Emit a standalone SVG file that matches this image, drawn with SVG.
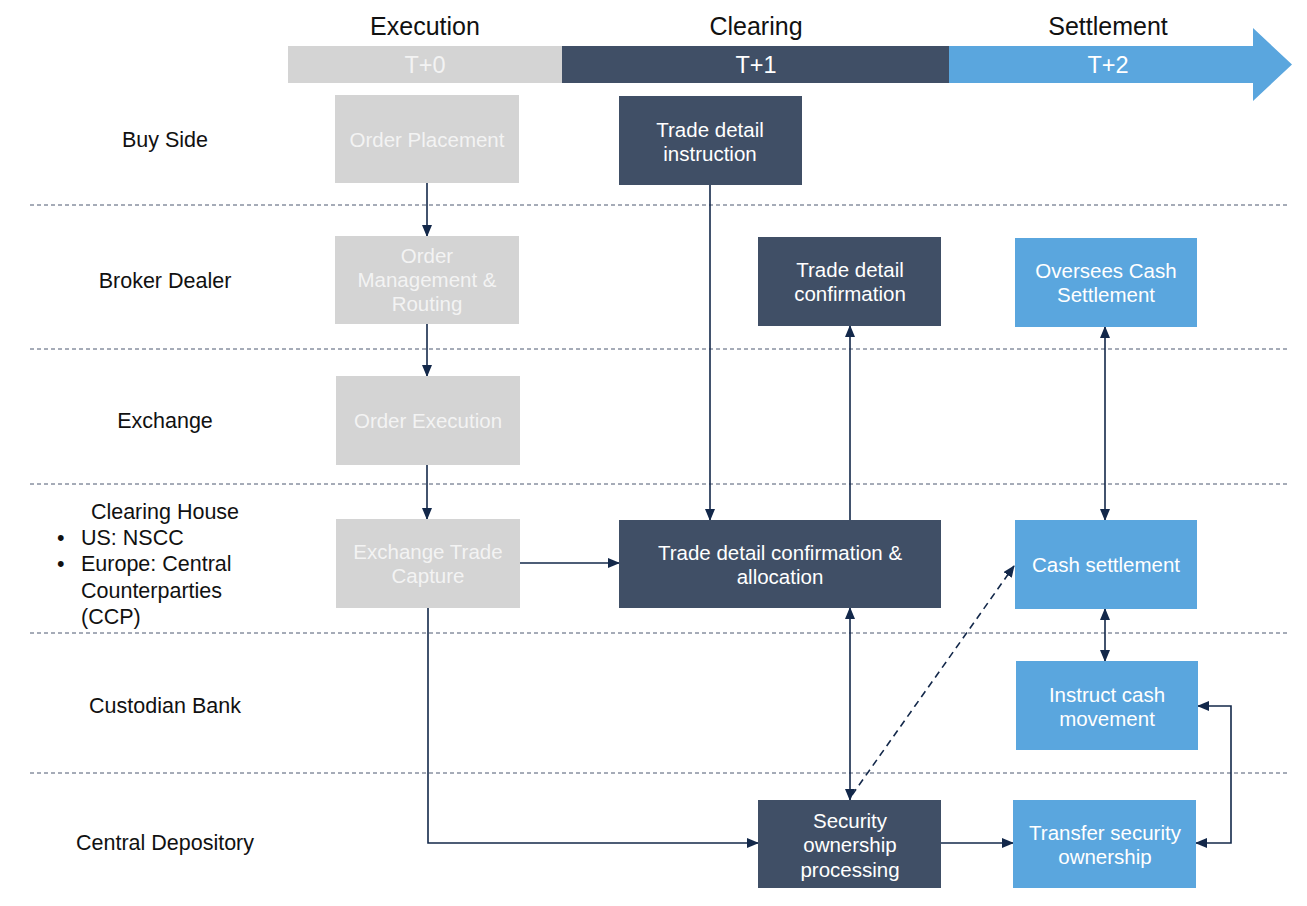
<svg xmlns="http://www.w3.org/2000/svg" width="1307" height="906" viewBox="0 0 1307 906">
  <defs>
    <style>
      .lbl { font-family: "Liberation Sans", Arial, sans-serif; font-size: 21.5px; fill: #111; }
      .hdr { font-family: "Liberation Sans", Arial, sans-serif; font-size: 25px; fill: #111; text-anchor: middle; }
      .tday { font-family: "Liberation Sans", Arial, sans-serif; font-size: 23.5px; text-anchor: middle; }
      .ntxt { font-family: "Liberation Sans", Arial, sans-serif; font-size: 20.5px; text-anchor: middle; fill: #ffffff; }
      .gray { fill: #d4d4d4; }
      .gray-t { fill: #f3f3f3; }
      .dark { fill: #404f66; }
      .blue { fill: #5aa6de; }
      .lane { stroke: #2e3c58; stroke-width: 1; stroke-dasharray: 4 3; fill: none; opacity: 0.85; }
      .conn { stroke: #13284a; stroke-width: 1.6; fill: none; }
      .dash { stroke-dasharray: 7 5; }
    </style>
    <marker id="arr" viewBox="0 0 12 10" refX="11" refY="5" markerWidth="12" markerHeight="10" markerUnits="userSpaceOnUse" orient="auto-start-reverse">
      <path d="M0,0 L12,5 L0,10 z" fill="#13284a"/>
    </marker>
  </defs>

  <rect width="1307" height="906" fill="#ffffff"/>

  <!-- phase timeline -->
  <g id="timeline">
    <rect x="288" y="46" width="274" height="37" class="gray"/>
    <rect x="562" y="46" width="387" height="37" class="dark"/>
    <polygon points="949,46 1253,46 1253,28 1292,64.5 1253,101 1253,83 949,83" class="blue"/>
    <text x="425" y="35" class="hdr">Execution</text>
    <text x="756" y="35" class="hdr">Clearing</text>
    <text x="1108" y="35" class="hdr">Settlement</text>
    <text x="425" y="73" class="tday" fill="#f3f3f3">T+0</text>
    <text x="756" y="73" class="tday" fill="#ffffff">T+1</text>
    <text x="1108" y="73" class="tday" fill="#ffffff">T+2</text>
  </g>

  <!-- swimlane separators -->
  <g id="lanes">
    <line x1="30" y1="205" x2="1290" y2="205" class="lane"/>
    <line x1="30" y1="349" x2="1290" y2="349" class="lane"/>
    <line x1="30" y1="484" x2="1290" y2="484" class="lane"/>
    <line x1="30" y1="633" x2="1290" y2="633" class="lane"/>
    <line x1="30" y1="773" x2="1290" y2="773" class="lane"/>
  </g>

  <!-- lane titles -->
  <g id="lane-labels">
    <text x="165" y="147" class="lbl" text-anchor="middle">Buy Side</text>
    <text x="165" y="288" class="lbl" text-anchor="middle">Broker Dealer</text>
    <text x="165" y="428" class="lbl" text-anchor="middle">Exchange</text>
    <text x="165" y="519" class="lbl" text-anchor="middle">Clearing House</text>
    <text x="57" y="545" class="lbl">•</text>
    <text x="81" y="545" class="lbl">US: NSCC</text>
    <text x="57" y="571" class="lbl">•</text>
    <text x="81" y="571" class="lbl">Europe: Central</text>
    <text x="81" y="598" class="lbl">Counterparties</text>
    <text x="81" y="624" class="lbl">(CCP)</text>
    <text x="165" y="713" class="lbl" text-anchor="middle">Custodian Bank</text>
    <text x="165" y="850" class="lbl" text-anchor="middle">Central Depository</text>
  </g>

  <!-- connectors -->
  <g id="connectors">
    <line x1="427" y1="183" x2="427" y2="236" class="conn" marker-end="url(#arr)"/>
    <line x1="427" y1="324" x2="427" y2="376" class="conn" marker-end="url(#arr)"/>
    <line x1="427" y1="465" x2="427" y2="519" class="conn" marker-end="url(#arr)"/>
    <line x1="520" y1="563" x2="619" y2="563" class="conn" marker-end="url(#arr)"/>
    <line x1="710" y1="185" x2="710" y2="520" class="conn" marker-end="url(#arr)"/>
    <line x1="850" y1="520" x2="850" y2="326" class="conn" marker-end="url(#arr)"/>
    <line x1="1105" y1="327" x2="1105" y2="520" class="conn" marker-start="url(#arr)" marker-end="url(#arr)"/>
    <line x1="1105" y1="609" x2="1105" y2="661" class="conn" marker-start="url(#arr)" marker-end="url(#arr)"/>
    <line x1="850" y1="608" x2="850" y2="800" class="conn" marker-start="url(#arr)" marker-end="url(#arr)"/>
    <line x1="852" y1="795" x2="1014" y2="566" class="conn dash" marker-end="url(#arr)"/>
    <polyline points="428,608 428,843 758,843" class="conn" marker-end="url(#arr)"/>
    <line x1="941" y1="843" x2="1013" y2="843" class="conn" marker-end="url(#arr)"/>
    <polyline points="1198,706 1231,706 1231,843 1196,843" class="conn" marker-start="url(#arr)" marker-end="url(#arr)"/>
  </g>

  <!-- execution nodes -->
  <g id="order-placement">
    <rect x="335" y="95" width="184" height="88" class="gray"/>
    <text x="427" y="147" class="ntxt gray-t">Order Placement</text>
  </g>
  <g id="order-management">
    <rect x="335" y="236" width="184" height="88" class="gray"/>
    <text x="427" y="263" class="ntxt gray-t">Order</text>
    <text x="427" y="287" class="ntxt gray-t">Management &amp;</text>
    <text x="427" y="311" class="ntxt gray-t">Routing</text>
  </g>
  <g id="order-execution">
    <rect x="336" y="376" width="184" height="89" class="gray"/>
    <text x="428" y="428" class="ntxt gray-t">Order Execution</text>
  </g>
  <g id="exchange-trade-capture">
    <rect x="336" y="519" width="184" height="89" class="gray"/>
    <text x="428" y="559" class="ntxt gray-t">Exchange Trade</text>
    <text x="428" y="583" class="ntxt gray-t">Capture</text>
  </g>

  <!-- clearing nodes -->
  <g id="trade-detail-instruction">
    <rect x="619" y="96" width="183" height="89" class="dark"/>
    <text x="710" y="137" class="ntxt">Trade detail</text>
    <text x="710" y="161" class="ntxt">instruction</text>
  </g>
  <g id="trade-detail-confirmation">
    <rect x="758" y="237" width="183" height="89" class="dark"/>
    <text x="850" y="277" class="ntxt">Trade detail</text>
    <text x="850" y="301" class="ntxt">confirmation</text>
  </g>
  <g id="confirmation-allocation">
    <rect x="619" y="520" width="322" height="88" class="dark"/>
    <text x="780" y="560" class="ntxt">Trade detail confirmation &amp;</text>
    <text x="780" y="584" class="ntxt">allocation</text>
  </g>
  <g id="security-ownership-processing">
    <rect x="758" y="800" width="183" height="88" class="dark"/>
    <text x="850" y="828" class="ntxt">Security</text>
    <text x="850" y="852" class="ntxt">ownership</text>
    <text x="850" y="877" class="ntxt">processing</text>
  </g>

  <!-- settlement nodes -->
  <g id="oversees-cash-settlement">
    <rect x="1015" y="238" width="182" height="89" class="blue"/>
    <text x="1106" y="278" class="ntxt">Oversees Cash</text>
    <text x="1106" y="302" class="ntxt">Settlement</text>
  </g>
  <g id="cash-settlement">
    <rect x="1015" y="520" width="182" height="89" class="blue"/>
    <text x="1106" y="572" class="ntxt">Cash settlement</text>
  </g>
  <g id="instruct-cash-movement">
    <rect x="1016" y="661" width="182" height="89" class="blue"/>
    <text x="1107" y="702" class="ntxt">Instruct cash</text>
    <text x="1107" y="726" class="ntxt">movement</text>
  </g>
  <g id="transfer-security-ownership">
    <rect x="1013" y="800" width="183" height="88" class="blue"/>
    <text x="1105" y="840" class="ntxt">Transfer security</text>
    <text x="1105" y="864" class="ntxt">ownership</text>
  </g>
</svg>
